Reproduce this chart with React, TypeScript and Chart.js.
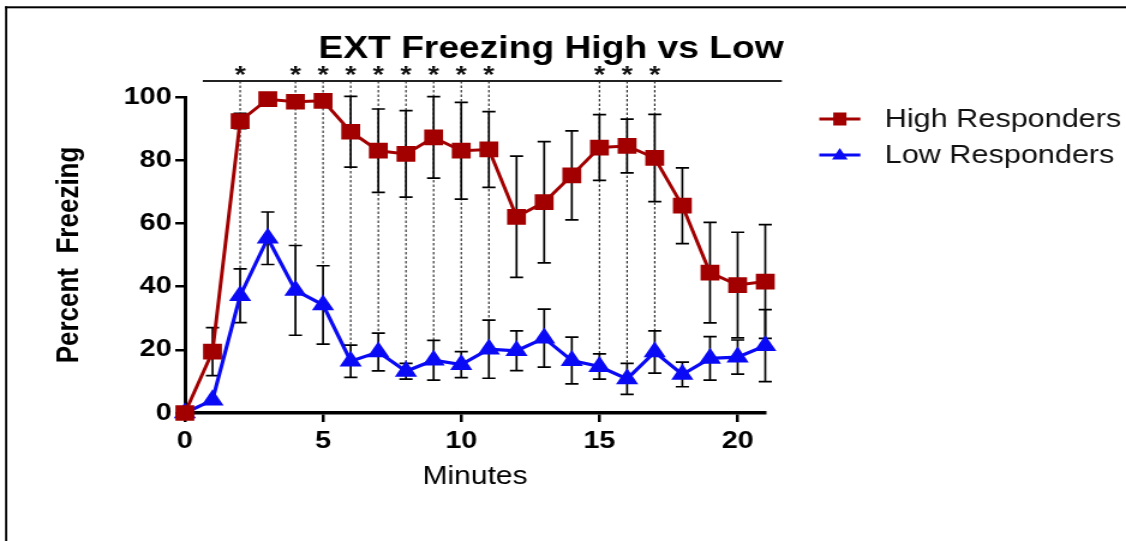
import React, { useEffect, useRef } from 'react';
import { Chart, registerables } from 'chart.js';

Chart.register(...registerables);

// ---- data ----
const minutes = [0, 1, 2, 3, 4, 5, 6, 7, 8, 9, 10, 11, 12, 13, 14, 15, 16, 17, 18, 19, 20, 21];
const highMean = [0, 19.4, 92.4, 99.3, 98.5, 98.8, 89, 83, 82, 87.2, 83, 83.4, 62.1, 66.7, 75.2, 84, 84.5, 80.7, 65.6, 44.4, 40.5, 41.6];
const highSem = [0, 7.6, 2.4, 0.6, 0.6, 0.6, 11.2, 13.2, 13.7, 12.9, 15.3, 12, 19.2, 19.2, 14.1, 10.4, 8.5, 13.8, 12, 15.9, 16.7, 18];
const lowMean = [0, 4.1, 37.1, 55.3, 38.8, 34.2, 16.4, 19.3, 13.2, 16.7, 15.3, 20.2, 19.7, 23.7, 16.6, 14.7, 10.8, 19.3, 12.2, 17.3, 17.7, 21.3];
const lowSem = [0, 0, 8.5, 8.3, 14.2, 12.4, 5.1, 6, 2.5, 6.3, 4.1, 9.2, 6.3, 9.2, 7.4, 4, 4.9, 6.7, 3.9, 6.9, 5.4, 11.4];
const sigMinutes = [2, 4, 5, 6, 7, 8, 9, 10, 11, 15, 16, 17];
const xTicks = [0, 5, 10, 15, 20];
const seriesNames = ['High Responders', 'Low Responders'];
const titleText = 'EXT Freezing High vs Low';
const xTitle = 'Minutes';
const yTitle = 'Percent  Freezing';

const RED = '#A20000';
const BLUE = '#0A0AF5';
const FONT = "'Liberation Sans', Arial, sans-serif";

const W = 938; // internal canvas width, stretched to 1126 by CSS
const H = 541;

const semArrays = [highSem, lowSem];
const meanArrays = [highMean, lowMean];

const customPlugin = {
  id: 'customDecor',
  beforeDatasetsDraw(chart: any) {
    const ctx = chart.ctx;
    const xs = chart.scales.x;
    const ys = chart.scales.y;
    const area = chart.chartArea;
    ctx.save();
    // dashed significance lines
    const sigY = area.top - 16;
    ctx.strokeStyle = '#222';
    ctx.lineWidth = 1.1;
    ctx.setLineDash([2.5, 2]);
    sigMinutes.forEach((m) => {
      const i = minutes.indexOf(m);
      const x = xs.getPixelForValue(m);
      const yEnd = ys.getPixelForValue(lowMean[i] + lowSem[i]);
      ctx.beginPath();
      ctx.moveTo(x, sigY);
      ctx.lineTo(x, yEnd);
      ctx.stroke();
    });
    ctx.setLineDash([]);
    // significance line
    ctx.strokeStyle = '#222';
    ctx.lineWidth = 2;
    ctx.beginPath();
    ctx.moveTo(xs.getPixelForValue(0.65), sigY);
    ctx.lineTo(xs.getPixelForValue(21.6), sigY);
    ctx.stroke();
    // asterisks
    ctx.fillStyle = '#111';
    ctx.font = `bold 24px ${FONT}`;
    ctx.textAlign = 'center';
    ctx.textBaseline = 'alphabetic';
    sigMinutes.forEach((m) => {
      ctx.fillText('*', xs.getPixelForValue(m), sigY + 2);
    });
    // error bars
    ctx.strokeStyle = '#000';
    ctx.lineWidth = 1.7;
    const cap = 5.5;
    meanArrays.forEach((means, d) => {
      const sems = semArrays[d];
      means.forEach((mv, i) => {
        const s = sems[i];
        if (!s) return;
        const x = xs.getPixelForValue(minutes[i]);
        const yt = ys.getPixelForValue(mv + s);
        const yb = ys.getPixelForValue(mv - s);
        ctx.beginPath();
        ctx.moveTo(x, yt);
        ctx.lineTo(x, yb);
        ctx.moveTo(x - cap, yt);
        ctx.lineTo(x + cap, yt);
        ctx.moveTo(x - cap, yb);
        ctx.lineTo(x + cap, yb);
        ctx.stroke();
      });
    });
    ctx.restore();
  },
  afterDraw(chart: any) {
    const ctx = chart.ctx;
    ctx.save();
    // frame (top and left edges)
    ctx.fillStyle = '#000';
    ctx.fillRect(4.2, 6.3, 1.8, H);
    ctx.fillRect(4.2, 6.3, W, 2);
    // title
    ctx.fillStyle = '#000';
    ctx.font = `bold 31px ${FONT}`;
    ctx.textAlign = 'center';
    ctx.textBaseline = 'alphabetic';
    ctx.fillText(titleText, 459, 58);
    // legend
    const rows = [
      { y: 119, baseline: 127, color: RED, style: 'rect' },
      { y: 155, baseline: 163, color: BLUE, style: 'triangle' },
    ];
    ctx.font = `25.5px ${FONT}`;
    ctx.textAlign = 'left';
    rows.forEach((r, k) => {
      ctx.strokeStyle = r.color;
      ctx.fillStyle = r.color;
      ctx.lineWidth = 3;
      ctx.beginPath();
      ctx.moveTo(682.5, r.y);
      ctx.lineTo(716.7, r.y);
      ctx.stroke();
      const cx = 699.6;
      if (r.style === 'rect') {
        ctx.fillRect(cx - 5.5, r.y - 6.5, 11, 13);
      } else {
        ctx.beginPath();
        ctx.moveTo(cx, r.y - 7);
        ctx.lineTo(cx + 6.5, r.y + 4.5);
        ctx.lineTo(cx - 6.5, r.y + 4.5);
        ctx.closePath();
        ctx.fill();
      }
      ctx.fillStyle = '#111';
      ctx.fillText(seriesNames[k], 737, r.baseline);
    });
    ctx.restore();
  },
};

export default function App() {
  const ref = useRef<HTMLCanvasElement | null>(null);
  useEffect(() => {
    if (!ref.current) return;
    const chart = new Chart(ref.current, {
      type: 'line',
      data: {
        datasets: [
          {
            label: seriesNames[0],
            data: minutes.map((m, i) => ({ x: m, y: highMean[i] })),
            borderColor: RED,
            backgroundColor: RED,
            pointBackgroundColor: RED,
            pointBorderColor: RED,
            pointStyle: 'rect',
            pointRadius: 9,
            borderWidth: 3,
            tension: 0,
            clip: false,
          },
          {
            label: seriesNames[1],
            data: minutes.map((m, i) => ({ x: m, y: lowMean[i] })),
            borderColor: BLUE,
            backgroundColor: BLUE,
            pointBackgroundColor: BLUE,
            pointBorderColor: BLUE,
            pointStyle: 'triangle',
            pointRadius: 7.5,
            borderWidth: 3.2,
            tension: 0,
            clip: false,
          },
        ] as any,
      },
      options: {
        animation: false,
        responsive: false,
        devicePixelRatio: 1,
        layout: { padding: { left: 0, right: W - 637.5, top: 97, bottom: 0 } },
        plugins: {
          legend: { display: false },
          title: { display: false },
          tooltip: { enabled: false },
        },
        scales: {
          x: {
            type: 'linear',
            min: 0,
            max: 21,
            afterBuildTicks: (s: any) => {
              s.ticks = xTicks.map((v) => ({ value: v }));
            },
            afterFit: (s: any) => {
              s.height = H - 413;
            },
            grid: { drawOnChartArea: false, drawTicks: true, tickLength: 9, color: '#000', lineWidth: 2.5 },
            border: { color: '#000', width: 3.5 },
            ticks: { color: '#000', font: { family: FONT, size: 24, weight: 'bold' }, padding: 5, maxRotation: 0 },
            title: {
              display: true,
              text: xTitle,
              color: '#000',
              font: { family: FONT, size: 25 },
              padding: { top: 0, bottom: 49 },
            },
          },
          y: {
            min: 0,
            max: 100,
            afterFit: (s: any) => {
              s.width = 154;
            },
            grid: { drawOnChartArea: false, drawTicks: true, tickLength: 8, color: '#000', lineWidth: 2.5 },
            border: { color: '#000', width: 3 },
            ticks: { stepSize: 20, color: '#000', font: { family: FONT, size: 24, weight: 'bold' }, padding: 3 },
            title: {
              display: true,
              text: yTitle,
              color: '#000',
              font: { family: FONT, size: 26, weight: 'bold' },
              padding: { top: 42, bottom: 0 },
            },
          },
        },
      } as any,
      plugins: [customPlugin],
    });
    return () => chart.destroy();
  }, []);
  return (
    <div style={{ position: 'fixed', left: 0, top: 0, width: 1126, height: 541, background: '#fff' }}>
      <canvas ref={ref} width={W} height={H} style={{ display: 'block', width: '1126px', height: '541px' }} />
    </div>
  );
}
